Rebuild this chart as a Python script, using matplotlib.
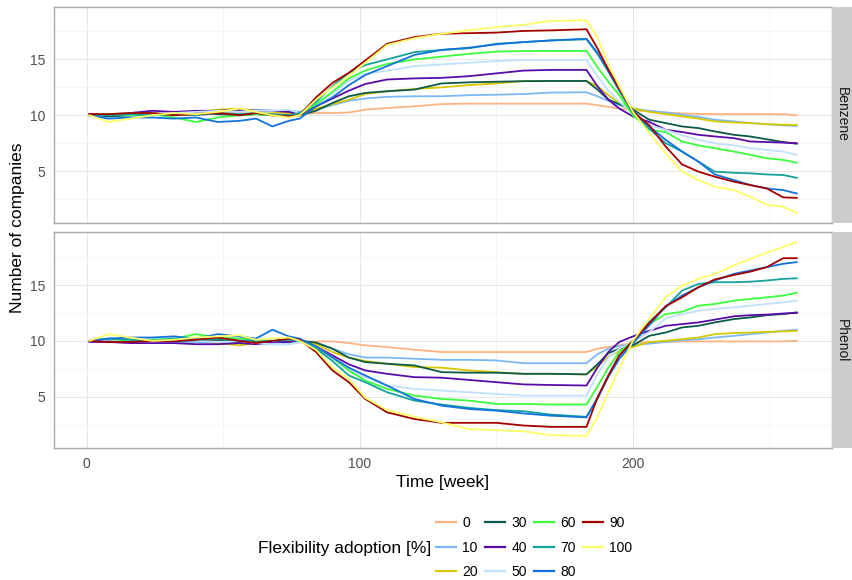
import matplotlib
matplotlib.use("Agg")
import matplotlib.pyplot as plt
from matplotlib.lines import Line2D

plt.rcParams["font.family"] = ["Liberation Sans", "DejaVu Sans"]

weeks = [1, 8, 16, 24, 32, 40, 48, 56, 62, 68, 74, 78,
         84, 90, 96, 102, 110, 120, 130, 140, 150, 160, 170, 183,
         187, 191, 195, 200,
         206, 212, 218, 224, 230, 237, 243, 249, 255, 260]

adoption_levels = ["0", "10", "20", "30", "40", "50", "60", "70", "80", "90", "100"]
line_colors = ["#FFB380", "#7AB8F5", "#D8C800", "#0B5A4A", "#5B0BAA", "#C2E0FF",
               "#3BFF3B", "#13A39B", "#1273DE", "#A50000", "#FFFF66"]
products = ["Benzene", "Phenol"]

# Benzene panel
benzene_0 = [10.0, 10.1, 10.0, 10.1, 10.2, 10.1, 10.3, 10.2, 10.1, 10.1, 10.1, 10.1,
             10.2, 10.2, 10.25, 10.5, 10.65, 10.8, 11.0, 11.04, 11.04, 11.04, 11.04, 11.04,
             10.9, 10.75, 10.6, 10.45,
             10.35, 10.25, 10.17, 10.12, 10.11, 10.11, 10.11, 10.1, 10.1, 10.0]
benzene_10 = [10.0, 9.9, 10.0, 10.2, 10.1, 10.3, 10.4, 10.4, 10.5, 10.4, 10.4, 10.3,
              10.5, 10.9, 11.3, 11.5, 11.65, 11.7, 11.7, 11.8, 11.84, 11.9, 12.03, 12.06,
              11.7, 11.3, 10.9, 10.6,
              10.4, 10.25, 10.05, 9.85, 9.6, 9.45, 9.3, 9.2, 9.1, 9.04]
benzene_20 = [10.1, 10.1, 10.2, 10.2, 10.0, 10.3, 10.5, 10.6, 10.4, 10.3, 10.2, 10.0,
              10.6, 11.0, 11.4, 11.9, 12.15, 12.35, 12.5, 12.7, 12.85, 13.07, 13.07, 13.07,
              12.6, 11.8, 11.1, 10.6,
              10.3, 10.1, 9.9, 9.7, 9.45, 9.35, 9.3, 9.2, 9.15, 9.13]
benzene_30 = [10.1, 9.9, 10.0, 10.1, 10.1, 10.2, 10.1, 10.0, 10.1, 10.0, 10.0, 10.0,
              10.4, 11.1, 11.7, 12.0, 12.15, 12.3, 12.85, 12.95, 13.0, 13.05, 13.07, 13.07,
              12.3, 11.4, 11.0, 10.5,
              9.6, 9.3, 9.0, 8.85, 8.55, 8.25, 8.1, 7.85, 7.6, 7.45]
benzene_40 = [10.1, 10.0, 10.2, 10.4, 10.3, 10.4, 10.4, 10.5, 10.4, 10.4, 10.3, 10.1,
              10.8, 11.5, 12.2, 12.8, 13.2, 13.3, 13.35, 13.5, 13.75, 14.0, 14.06, 14.06,
              12.6, 11.4, 10.6, 9.9,
              9.4, 8.7, 8.5, 8.25, 8.1, 7.95, 7.65, 7.6, 7.55, 7.5]
benzene_50 = [10.0, 10.1, 10.2, 10.1, 10.2, 10.3, 10.4, 10.3, 10.4, 10.4, 10.5, 10.2,
              11.0, 11.9, 13.1, 13.7, 14.0, 14.4, 14.55, 14.7, 14.85, 14.95, 14.95, 14.95,
              13.5, 12.2, 11.2, 10.2,
              9.1, 8.7, 8.2, 7.8, 7.5, 7.3, 7.05, 6.9, 6.75, 6.45]
benzene_60 = [10.0, 10.1, 10.0, 10.1, 9.8, 9.4, 9.8, 10.0, 10.1, 10.0, 9.9, 10.1,
              11.0, 12.1, 13.3, 14.0, 14.6, 15.0, 15.25, 15.5, 15.7, 15.75, 15.76, 15.76,
              14.3, 13.0, 11.8, 10.0,
              8.7, 8.5, 7.65, 7.3, 7.05, 6.75, 6.45, 6.15, 6.0, 5.75]
benzene_70 = [10.0, 10.0, 10.1, 10.0, 10.1, 10.0, 10.2, 10.1, 10.2, 10.1, 10.0, 10.2,
              11.2, 12.6, 13.8, 14.5, 15.0, 15.65, 15.85, 16.0, 16.4, 16.55, 16.7, 16.8,
              15.5, 13.9, 12.2, 10.2,
              8.8, 7.5, 6.75, 5.85, 4.95, 4.85, 4.8, 4.7, 4.65, 4.4]
benzene_80 = [10.0, 9.7, 9.8, 9.8, 9.7, 9.8, 9.4, 9.5, 9.7, 9.0, 9.5, 9.7,
              10.8, 11.6, 12.7, 13.6, 14.4, 15.4, 15.85, 16.05, 16.35, 16.55, 16.7, 16.85,
              15.6, 14.0, 12.3, 10.4,
              9.0, 7.8, 6.75, 5.85, 4.7, 4.2, 3.75, 3.45, 3.3, 3.0]
benzene_90 = [10.1, 10.1, 10.2, 10.2, 10.0, 10.1, 10.2, 10.0, 10.2, 10.0, 9.9, 10.0,
              11.6, 12.9, 13.8, 14.9, 16.4, 17.0, 17.3, 17.35, 17.4, 17.55, 17.6, 17.7,
              16.0, 14.1, 12.4, 10.3,
              9.1, 7.2, 5.6, 4.95, 4.5, 4.05, 3.75, 3.45, 2.65, 2.6]
benzene_100 = [10.0, 9.4, 9.7, 10.0, 10.2, 10.1, 10.3, 10.6, 10.3, 10.0, 9.8, 10.0,
               11.4, 12.5, 13.5, 14.7, 16.3, 16.9, 17.3, 17.6, 17.9, 18.1, 18.45, 18.5,
               17.0, 14.6, 12.6, 10.3,
               8.4, 6.6, 4.95, 4.2, 3.6, 3.3, 2.7, 2.0, 1.8, 1.25]

# Phenol panel
phenol_0 = [10.0, 10.0, 9.9, 10.0, 10.0, 10.1, 10.0, 10.0, 10.0, 10.0, 9.9, 9.9,
            9.95, 9.95, 9.8, 9.6, 9.45, 9.2, 9.0, 9.0, 9.0, 9.0, 9.0, 9.0,
            9.3, 9.45, 9.6, 9.8,
            9.9, 9.9, 9.95, 9.95, 9.95, 9.95, 9.95, 9.95, 9.95, 10.0]
phenol_10 = [10.0, 10.0, 10.1, 10.0, 9.9, 9.9, 9.8, 9.8, 9.7, 9.7, 9.7, 9.9,
             9.8, 9.3, 8.8, 8.5, 8.5, 8.4, 8.3, 8.3, 8.25, 8.0, 8.0, 8.0,
             8.8, 9.3, 9.55, 9.65,
             9.75, 9.9, 10.05, 10.15, 10.3, 10.45, 10.6, 10.75, 10.9, 11.0]
phenol_20 = [10.0, 10.1, 10.0, 10.0, 10.1, 10.2, 9.8, 9.6, 9.8, 10.0, 10.0, 10.0,
             9.7, 9.0, 8.5, 8.2, 7.95, 7.65, 7.6, 7.35, 7.2, 7.05, 7.05, 7.0,
             7.7, 8.6, 9.1, 9.45,
             9.9, 10.0, 10.15, 10.3, 10.6, 10.7, 10.75, 10.8, 10.85, 10.9]
phenol_30 = [10.0, 10.0, 10.1, 10.0, 10.0, 10.0, 10.1, 9.9, 10.0, 10.0, 9.9, 10.0,
             9.85, 9.3, 8.5, 8.1, 7.95, 7.8, 7.2, 7.15, 7.15, 7.05, 7.05, 7.0,
             7.9, 8.9, 9.3, 9.6,
             10.45, 10.75, 11.2, 11.35, 11.65, 11.95, 12.1, 12.3, 12.4, 12.55]
phenol_40 = [9.9, 9.9, 9.8, 9.8, 9.8, 9.7, 9.7, 9.8, 9.7, 9.9, 9.9, 10.0,
             9.5, 8.7, 7.9, 7.35, 7.05, 6.75, 6.7, 6.5, 6.3, 6.1, 6.05, 6.0,
             7.6, 9.0, 9.9, 10.4,
             10.9, 11.35, 11.5, 11.65, 11.9, 12.2, 12.3, 12.35, 12.45, 12.5]
phenol_50 = [10.0, 10.1, 10.0, 10.2, 10.1, 10.0, 9.9, 10.0, 9.8, 9.7, 9.7, 9.9,
             9.5, 8.5, 7.4, 6.75, 6.0, 5.7, 5.55, 5.4, 5.25, 5.1, 5.1, 5.1,
             7.0, 8.5, 9.3, 9.9,
             10.8, 12.0, 12.4, 12.7, 12.85, 13.0, 13.15, 13.3, 13.45, 13.6]
phenol_60 = [10.0, 10.2, 10.0, 10.1, 10.2, 10.6, 10.3, 10.2, 10.1, 10.0, 10.2, 10.0,
             9.4, 8.5, 7.35, 6.45, 5.7, 5.1, 4.8, 4.65, 4.35, 4.35, 4.3, 4.3,
             5.9, 7.6, 9.0, 10.0,
             11.5, 12.4, 12.6, 13.15, 13.3, 13.6, 13.75, 13.9, 14.05, 14.3]
phenol_70 = [10.0, 10.2, 10.1, 10.0, 10.2, 10.1, 10.2, 10.0, 10.1, 10.0, 10.1, 10.0,
             9.3, 8.2, 6.9, 6.3, 5.4, 4.65, 4.3, 4.0, 3.8, 3.7, 3.4, 3.2,
             4.9, 6.8, 8.4, 9.9,
             11.7, 13.0, 14.5, 15.1, 15.25, 15.25, 15.3, 15.4, 15.55, 15.6]
phenol_80 = [10.0, 10.2, 10.3, 10.3, 10.4, 10.2, 10.6, 10.4, 10.2, 11.0, 10.4, 10.2,
             9.5, 8.5, 7.6, 6.9, 6.0, 4.8, 4.2, 3.9, 3.75, 3.5, 3.3, 3.15,
             4.8, 6.8, 8.4, 9.8,
             11.4, 13.1, 14.05, 14.8, 15.4, 16.0, 16.3, 16.6, 16.9, 17.05]
phenol_90 = [10.0, 9.9, 9.9, 10.0, 10.0, 10.1, 10.3, 10.0, 9.8, 10.0, 10.2, 10.1,
             9.0, 7.35, 6.3, 4.8, 3.6, 3.0, 2.66, 2.66, 2.66, 2.42, 2.3, 2.3,
             4.9, 6.9, 8.7, 10.0,
             11.6, 13.1, 13.9, 14.8, 15.5, 15.9, 16.2, 16.6, 17.4, 17.4]
phenol_100 = [10.0, 10.6, 10.3, 10.0, 10.1, 10.3, 10.4, 10.5, 10.1, 10.2, 10.3, 10.0,
              9.2, 7.6, 6.6, 4.9, 3.8, 3.2, 2.7, 2.1, 2.0, 1.9, 1.55, 1.5,
              3.2, 5.4, 7.5, 10.0,
              12.0, 13.9, 14.95, 15.55, 16.0, 16.75, 17.35, 17.9, 18.4, 18.85]

benzene = [benzene_0, benzene_10, benzene_20, benzene_30, benzene_40, benzene_50,
           benzene_60, benzene_70, benzene_80, benzene_90, benzene_100]
phenol = [phenol_0, phenol_10, phenol_20, phenol_30, phenol_40, phenol_50,
          phenol_60, phenol_70, phenol_80, phenol_90, phenol_100]

W, H = 852, 580
GRID_MAJOR = "#E6E6E6"
GRID_MINOR = "#F2F2F2"
BORDER = "#ABABAB"


def px_rect(left, top, right, bottom):
    return [left / W, 1 - bottom / H, (right - left) / W, (bottom - top) / H]


def style_panel(ax, show_x):
    ax.set_xlim(-11.95, 272.9)
    ax.set_ylim(0.38, 19.72)
    ax.set_xticks([0, 100, 200])
    ax.set_xticks([50, 150, 250], minor=True)
    ax.set_yticks([5, 10, 15])
    ax.set_yticks([2.5, 7.5, 12.5, 17.5], minor=True)
    ax.grid(True, which="major", color=GRID_MAJOR, linewidth=0.7)
    ax.grid(True, which="minor", color=GRID_MINOR, linewidth=0.5)
    ax.set_axisbelow(True)
    ax.tick_params(which="both", length=0, labelsize=10, labelcolor="#4D4D4D", pad=6)
    if not show_x:
        ax.tick_params(axis="x", labelbottom=False)
    for sp in ax.spines.values():
        sp.set_color(BORDER)
        sp.set_linewidth(1.0)


def add_strip(fig, top, bottom, label):
    sax = fig.add_axes(px_rect(832, top, 852, bottom))
    sax.set_facecolor("#CCCCCC")
    sax.set_xticks([])
    sax.set_yticks([])
    for sp in sax.spines.values():
        sp.set_visible(False)
    sax.text(0.5, 0.5, label, rotation=-90, ha="center", va="center",
             fontsize=10, color="#1A1A1A", transform=sax.transAxes)


def main():
    fig = plt.figure(figsize=(W / 100, H / 100), dpi=100)

    panels = [(6.7, 222.7, benzene), (232.3, 448.3, phenol)]
    for i, (top, bottom, series) in enumerate(panels):
        ax = fig.add_axes(px_rect(54, top, 832, bottom))
        for values, color in zip(series, line_colors):
            ax.plot(weeks, values, color=color, linewidth=1.3, solid_joinstyle="round")
        style_panel(ax, show_x=(i == 1))
        add_strip(fig, top, bottom, products[i])

    fig.text(443 / W, 1 - 482 / H, "Time [week]", ha="center", va="center", fontsize=12.5)
    fig.text(18 / W, 1 - 227.5 / H, "Number of companies", ha="center", va="center",
             rotation=90, fontsize=12.5)

    handles = [Line2D([], [], color=c, linewidth=1.6) for c in line_colors]
    fig.legend(handles, adoption_levels, ncol=4, loc="center left",
               bbox_to_anchor=(436 / W, 1 - 547.5 / H), frameon=False, fontsize=10,
               handlelength=1.45, handletextpad=0.45, columnspacing=0.5,
               labelspacing=0.75, borderpad=0, borderaxespad=0)
    fig.text(431 / W, 1 - 548 / H, "Flexibility adoption [%]", ha="right", va="center",
             fontsize=12.5)

    fig.savefig("out.png", dpi=100)
    plt.close(fig)


if __name__ == "__main__":
    main()
